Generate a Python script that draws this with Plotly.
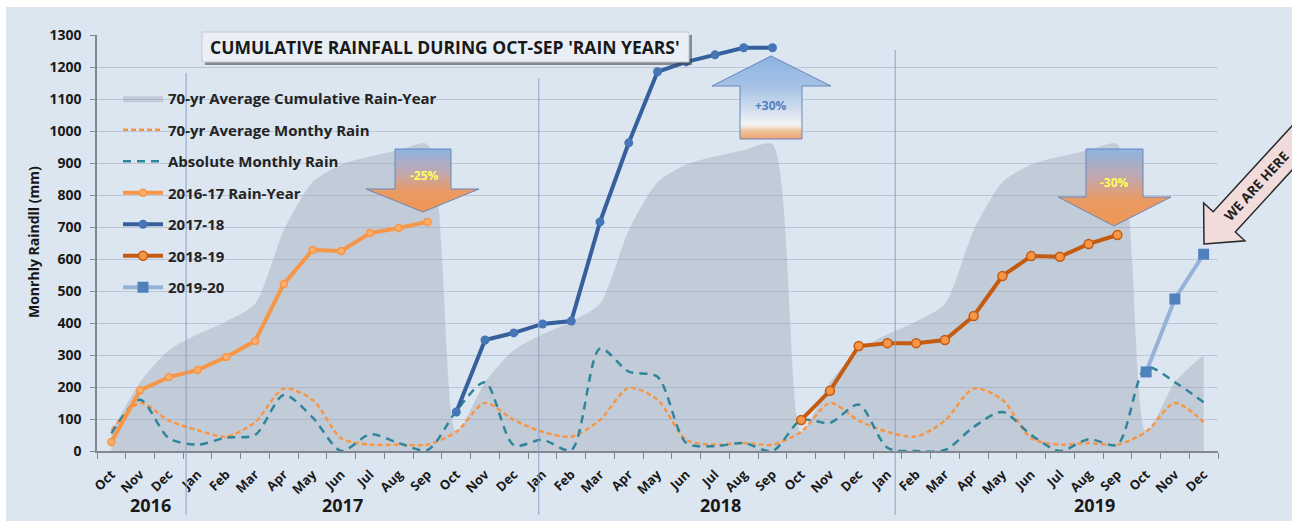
import math
import plotly.graph_objects as go

# ---------------- data ----------------
TICK_LABELS = ["Oct", "Nov", "Dec", "Jan", "Feb", "Mar", "Apr", "May", "Jun", "Jul", "Aug", "Sep",
               "Oct", "Nov", "Dec", "Jan", "Feb", "Mar", "Apr", "May", "Jun", "Jul", "Aug", "Sep",
               "Oct", "Nov", "Dec", "Jan", "Feb", "Mar", "Apr", "May", "Jun", "Jul", "Aug", "Sep",
               "Oct", "Nov", "Dec"]

AVG_CUMULATIVE = [60, 215, 315, 365, 405, 460, 690, 840, 895, 920, 940, 958,
                  60, 215, 315, 365, 405, 460, 690, 840, 895, 920, 940, 958,
                  60, 215, 315, 365, 405, 460, 690, 840, 895, 920, 940, 958,
                  60, 215, 300]
AVG_MONTHLY = [65, 150, 95, 65, 45, 90, 195, 160, 40, 20, 20, 20,
               60, 150, 97, 60, 45, 97, 197, 160, 35, 20, 25, 20,
               60, 150, 95, 60, 45, 95, 195, 160, 40, 20, 25, 20,
               60, 150, 90]
ABS_MONTHLY = [55, 160, 40, 20, 42, 50, 175, 105, 0, 52, 25, 3,
               125, 215, 18, 35, 3, 320, 248, 232, 25, 15, 25, 0,
               97, 88, 145, 10, 0, 3, 75, 122, 50, 0, 37, 20,
               262, 215, 152]
RY_2016_17 = [28, 190, 231, 253, 294, 344, 522, 628, 625, 681, 697, 716]
RY_2017_18 = [122, 347, 369, 397, 406, 716, 963, 1185, 1216, 1238, 1260, 1260]
RY_2018_19 = [97, 188, 328, 337, 337, 347, 422, 547, 609, 607, 647, 675]
RY_2019_20 = [247, 475, 615]

YEAR_LABELS = ["2016", "2017", "2018", "2019"]
YEAR_LABEL_X = [1.35, 8.05, 21.2, 34.2]
SEPARATOR_X = [2.6, 14.87, 27.27]

# ---------------- geometry helpers (pixel -> paper) ----------------
L, R, T, B = 97, 74, 35, 70
FW, FH = 1292, 521
PW, PH = FW - L - R, FH - T - B


def px(x):
    return (x - L) / PW


def py(y):
    return (FH - B - y) / PH


def path_of(pts):
    return "M" + " L".join(f"{px(x):.5f},{py(y):.5f}" for x, y in pts) + " Z"


def clip_half(poly, y0, keep_greater):
    out = []
    n = len(poly)
    for i in range(n):
        P, Q = poly[i], poly[(i + 1) % n]
        inP = P[1] >= y0 if keep_greater else P[1] <= y0
        inQ = Q[1] >= y0 if keep_greater else Q[1] <= y0
        if inP:
            out.append(P)
        if inP != inQ:
            t = (y0 - P[1]) / (Q[1] - P[1])
            out.append((P[0] + t * (Q[0] - P[0]), y0))
    return out


def interp_color(stops, y):
    if y <= stops[0][0]:
        c = stops[0][1]
    elif y >= stops[-1][0]:
        c = stops[-1][1]
    else:
        for (y0, c0), (y1, c1) in zip(stops[:-1], stops[1:]):
            if y0 <= y <= y1:
                t = (y - y0) / (y1 - y0)
                c = tuple(c0[k] + t * (c1[k] - c0[k]) for k in range(3))
                break
    return f"rgb({int(c[0])},{int(c[1])},{int(c[2])})"


def gradient_arrow(poly, stops, nb=36, outline="rgb(105,135,185)"):
    ys = [p[1] for p in poly]
    y0, y1 = min(ys), max(ys)
    h = (y1 - y0) / nb
    out = []
    for i in range(nb):
        a = y0 + i * h
        b = a + h + 0.7
        part = clip_half(clip_half(poly, a, True), b, False)
        if len(part) < 3:
            continue
        out.append(dict(type="path", xref="paper", yref="paper", path=path_of(part),
                        fillcolor=interp_color(stops, a + h / 2), line=dict(width=0), layer="above"))
    out.append(dict(type="path", xref="paper", yref="paper", path=path_of(poly),
                    fillcolor="rgba(0,0,0,0)", line=dict(color=outline, width=1), layer="above"))
    return out


BLUE = (141, 180, 226)
ORNG = (240, 150, 85)
FONT = "Open Sans"
BG = "rgb(220,230,241)"
AX = "rgb(130,135,145)"

# ---------------- figure ----------------
x_all = list(range(len(TICK_LABELS)))
fig = go.Figure()

fig.add_trace(go.Scatter(
    x=x_all, y=AVG_CUMULATIVE, name="70-yr Average Cumulative Rain-Year",
    mode="lines", line=dict(color="rgba(150,158,172,0.0)", width=0, shape="spline", smoothing=0.7),
    fill="tozeroy", fillcolor="rgba(150,158,172,0.36)", legendgroup="a"))
fig.add_trace(go.Scatter(
    x=x_all, y=AVG_MONTHLY, name="70-yr Average Monthy Rain", mode="lines",
    line=dict(color="rgb(247,150,70)", width=2.5, dash="5px,3px", shape="spline", smoothing=0.8),
    legendgroup="b"))
fig.add_trace(go.Scatter(
    x=x_all, y=ABS_MONTHLY, name="Absolute Monthly Rain", mode="lines",
    line=dict(color="rgb(49,133,155)", width=2.5, dash="8px,6px", shape="spline", smoothing=0.8),
    legendgroup="c"))
fig.add_trace(go.Scatter(
    x=x_all[0:12], y=RY_2016_17, name="2016-17 Rain-Year", mode="lines+markers",
    line=dict(color="rgb(247,150,70)", width=4),
    marker=dict(color="rgb(250,175,110)", size=7, line=dict(color="rgb(247,150,70)", width=1.5)),
    legendgroup="d"))
fig.add_trace(go.Scatter(
    x=x_all[12:24], y=RY_2017_18, name="2017-18", mode="lines+markers",
    line=dict(color="rgb(54,96,156)", width=4),
    marker=dict(color="rgb(70,118,182)", size=9), legendgroup="e"))
fig.add_trace(go.Scatter(
    x=x_all[24:36], y=RY_2018_19, name="2018-19", mode="lines+markers",
    line=dict(color="rgb(197,90,17)", width=4),
    marker=dict(color="rgb(247,150,70)", size=9, line=dict(color="rgb(197,90,17)", width=1.5)),
    legendgroup="f"))
fig.add_trace(go.Scatter(
    x=x_all[36:39], y=RY_2019_20, name="2019-20", mode="lines+markers",
    line=dict(color="rgb(149,179,215)", width=4),
    marker=dict(color="rgb(79,129,189)", size=11, symbol="square"), legendgroup="g"))

shapes = []
# white strips on top and left edges
shapes.append(dict(type="rect", xref="paper", yref="paper", x0=px(-2), x1=px(FW + 2), y0=py(7), y1=py(-2),
                   fillcolor="white", line=dict(width=0), layer="below"))
shapes.append(dict(type="rect", xref="paper", yref="paper", x0=px(-2), x1=px(6), y0=py(FH + 2), y1=py(-2),
                   fillcolor="white", line=dict(width=0), layer="below"))
# year separators
for sx, top in zip(SEPARATOR_X, [73, 78, 50]):
    shapes.append(dict(type="line", xref="x", yref="paper", x0=sx, x1=sx, y0=py(515), y1=py(top),
                       line=dict(color="rgb(140,160,200)", width=1), layer="above"))
# title box
shapes.append(dict(type="rect", xref="paper", yref="paper", x0=px(205), x1=px(692), y0=py(65), y1=py(35),
                   fillcolor="rgba(60,60,70,0.55)", line=dict(width=0), layer="above"))
shapes.append(dict(type="rect", xref="paper", yref="paper", x0=px(202), x1=px(689), y0=py(62), y1=py(32),
                   fillcolor="rgb(234,239,246)", line=dict(color="rgb(195,200,210)", width=1), layer="above"))

# -25% arrow
shapes += gradient_arrow([(395, 149), (451, 149), (451, 189), (479, 189), (423, 212), (366, 189), (395, 189)],
                         [(149, BLUE), (172, (192, 168, 178)), (192, (234, 155, 100)), (212, ORNG)])
# +30% arrow
shapes += gradient_arrow([(771, 56), (831, 86), (802, 86), (802, 139), (740, 139), (740, 86), (712, 86)],
                         [(56, BLUE), (88, (168, 196, 230)), (112, (215, 226, 240)), (125, (246, 246, 246)),
                          (131, (240, 195, 155)), (139, (236, 165, 115))])
# -30% arrow
shapes += gradient_arrow([(1086, 149), (1143, 149), (1143, 197), (1171, 197), (1114, 226), (1058, 197), (1086, 197)],
                         [(149, BLUE), (176, (192, 168, 178)), (200, (234, 155, 100)), (226, ORNG)])

# WE ARE HERE arrow
ang = math.radians(47.5)
ux, uy = math.cos(ang), -math.sin(ang)
nx, ny = math.sin(ang), math.cos(ang)
tx, ty = 1204, 244


def pt(t, s):
    return (tx + t * ux + s * nx, ty + t * uy + s * ny)


we_poly = [pt(0, 0), pt(30, 28), pt(30, 15), pt(180, 15), pt(180, -15), pt(30, -15), pt(30, -28)]
shapes.append(dict(type="path", xref="paper", yref="paper", path=path_of(we_poly),
                   fillcolor="rgb(242,220,219)", line=dict(color="rgb(40,40,40)", width=1.5), layer="above"))


def ann(x, y, text, size, color, **kw):
    d = dict(xref="paper", yref="paper", x=px(x), y=py(y), showarrow=False, text=text,
             xanchor="center", yanchor="middle",
             font=dict(family=FONT, size=size, color=color, weight="bold"))
    d.update(kw)
    return d


annotations = [
    ann(445, 47, "CUMULATIVE RAINFALL DURING OCT-SEP 'RAIN YEARS'", 17.5, "rgb(25,25,25)"),
    ann(424, 175, "-25%", 12, "rgb(255,255,90)"),
    ann(771, 106, "+30%", 12, "rgb(79,129,189)"),
    ann(1114, 182, "-30%", 12, "rgb(255,255,90)"),
    ann(pt(78, 0)[0], pt(78, 0)[1], "WE ARE HERE", 13.5, "rgb(30,30,30)", textangle=-47.5),
    ann(33, 242, "Monrhly Raindll (mm)", 14, "rgb(25,25,25)", textangle=-90),
]
for lab, lx in zip(YEAR_LABELS, YEAR_LABEL_X):
    annotations.append(dict(xref="x", yref="paper", x=lx, y=py(505), showarrow=False, text=lab,
                            xanchor="center", yanchor="middle",
                            font=dict(family=FONT, size=18, color="rgb(25,25,25)", weight="bold")))

fig.update_layout(
    width=FW, height=FH,
    margin=dict(l=L, r=R, t=T, b=B),
    paper_bgcolor=BG, plot_bgcolor=BG,
    font=dict(family=FONT, color="rgb(25,25,25)"),
    showlegend=True,
    legend=dict(x=px(118), y=py(82), xanchor="left", yanchor="top", bgcolor="rgba(0,0,0,0)",
                font=dict(family=FONT, size=15, color="rgb(35,35,35)", weight="bold"),
                tracegroupgap=9, itemwidth=40),
    xaxis=dict(range=[-0.5, 38.5], tickmode="array", tickvals=x_all, ticktext=TICK_LABELS,
               tickangle=-45, ticks="", showgrid=False, zeroline=False,
               showline=True, linecolor=AX, linewidth=1.5, ticklabelstandoff=9,
               tickfont=dict(family=FONT, size=13, color="rgb(25,25,25)", weight="bold"),
               minor=dict(ticks="outside", tickmode="array",
                          tickvals=[i - 0.5 for i in range(len(TICK_LABELS) + 1)],
                          ticklen=6, tickcolor=AX, showgrid=False)),
    yaxis=dict(range=[0, 1300], tickmode="array", tickvals=list(range(0, 1301, 100)),
               ticks="outside", ticklen=5, tickcolor=AX, ticklabelstandoff=6,
               showline=True, linecolor=AX, linewidth=1.5,
               gridcolor="rgb(188,198,214)", gridwidth=1, zeroline=False,
               tickfont=dict(family=FONT, size=14, color="rgb(25,25,25)", weight="bold")),
    shapes=shapes, annotations=annotations,
)

fig.write_html("out.html")
